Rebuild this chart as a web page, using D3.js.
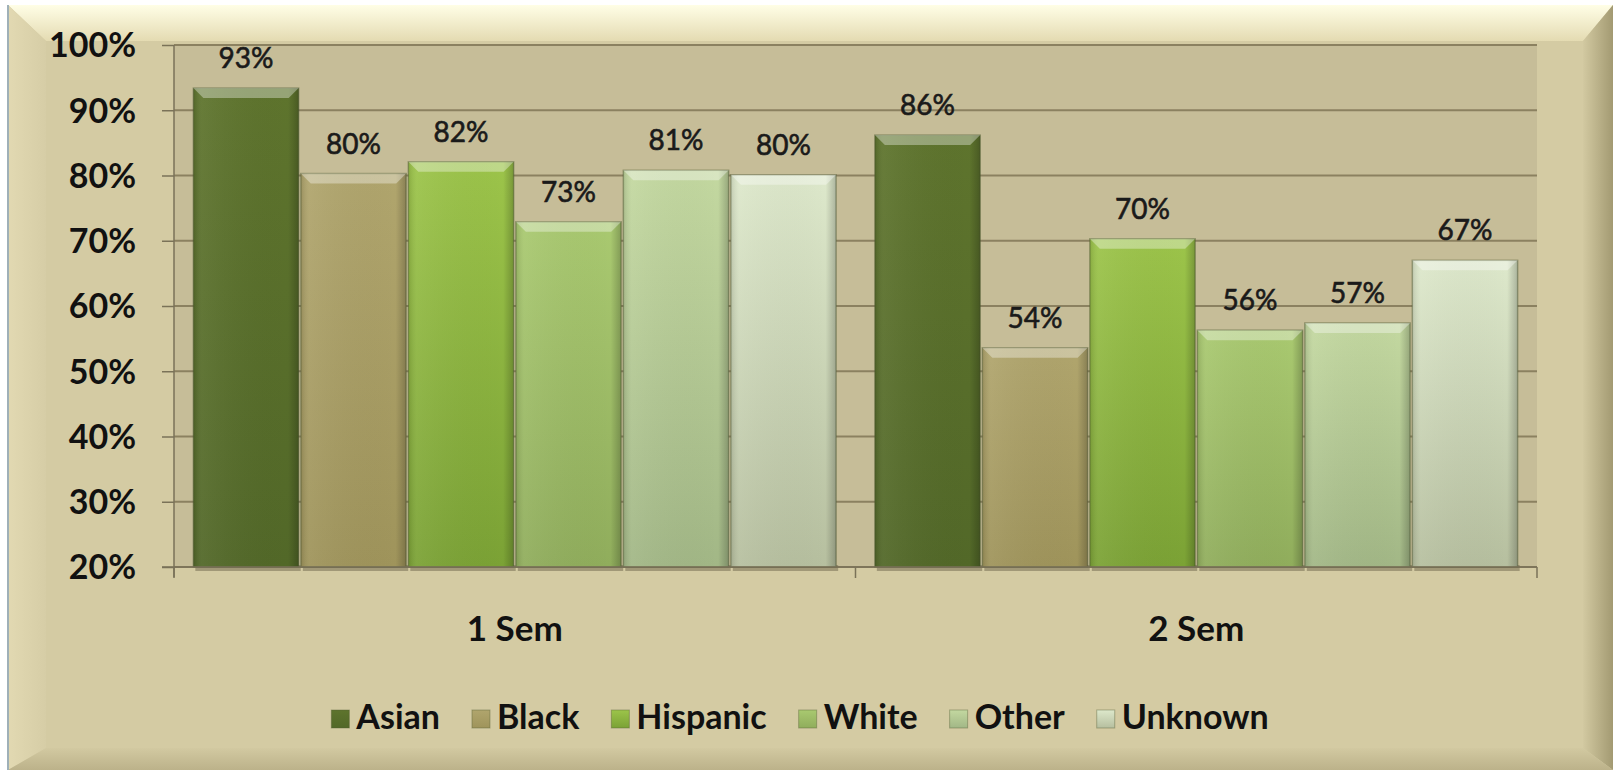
<!DOCTYPE html>
<html>
<head>
<meta charset="utf-8">
<script src="https://cdn.jsdelivr.net/npm/d3@7"></script>
<style>
body { margin: 0; background: #fff; }
svg text { font-family: Lato, "Open Sans", sans-serif; }
</style>
</head>
<body>
<div id="chart"></div>
<script>
var categories = ["1 Sem", "2 Sem"];
var seriesNames = ["Asian", "Black", "Hispanic", "White", "Other", "Unknown"];
var sem1 = [0.934, 0.803, 0.821, 0.729, 0.808, 0.801];
var sem2 = [0.862, 0.536, 0.703, 0.563, 0.574, 0.670];
var yTicks = [0.2, 0.3, 0.4, 0.5, 0.6, 0.7, 0.8, 0.9, 1.0];

var values = [sem1, sem2];
// colours: [top, bottom] of each bar
var colors = [["#5e742d", "#526828"], ["#b0a56d", "#9f945b"], ["#9cc44a", "#7ba235"],
              ["#a9c970", "#90ad5c"], ["#c3d8a0", "#a2b786"], ["#dde8cb", "#b6bf9f"]];

var W = 1613, H = 781;
var svg = d3.select("#chart").append("svg").attr("width", W).attr("height", H);
var defs = svg.append("defs");

// beveled frame
var fx0 = 8, fy0 = 5, fx1 = 1613, fy1 = 770;
var bl = 38, bt = 36, br = 30, bb = 22;
svg.append("rect").attr("x", fx0).attr("y", fy0).attr("width", fx1 - fx0).attr("height", fy1 - fy0).attr("fill", "#d4cba3");
var gTop = defs.append("linearGradient").attr("id", "gtop").attr("x1", 0).attr("y1", 0).attr("x2", 0).attr("y2", 1);
gTop.append("stop").attr("offset", "0%").attr("stop-color", "#fffee6");
gTop.append("stop").attr("offset", "100%").attr("stop-color", "#e4dbb2");
var gRight = defs.append("linearGradient").attr("id", "gright").attr("x1", 0).attr("y1", 0).attr("x2", 1).attr("y2", 0);
gRight.append("stop").attr("offset", "0%").attr("stop-color", "#d2c9a1");
gRight.append("stop").attr("offset", "100%").attr("stop-color", "#a39a72");
var gBottom = defs.append("linearGradient").attr("id", "gbottom").attr("x1", 0).attr("y1", 0).attr("x2", 0).attr("y2", 1);
gBottom.append("stop").attr("offset", "0%").attr("stop-color", "#d2c9a1");
gBottom.append("stop").attr("offset", "100%").attr("stop-color", "#bcb28a");
var gLeft = defs.append("linearGradient").attr("id", "gleft").attr("x1", 0).attr("y1", 0).attr("x2", 1).attr("y2", 0);
gLeft.append("stop").attr("offset", "0%").attr("stop-color", "#e2d9b2");
gLeft.append("stop").attr("offset", "100%").attr("stop-color", "#d6cda6");

svg.append("polygon").attr("fill", "url(#gtop)")
  .attr("points", [[fx0, fy0], [fx1, fy0], [fx1 - br, fy0 + bt], [fx0 + bl, fy0 + bt]].join(" "));
svg.append("polygon").attr("fill", "url(#gleft)")
  .attr("points", [[fx0, fy0], [fx0 + bl, fy0 + bt], [fx0 + bl, fy1 - bb], [fx0, fy1]].join(" "));
svg.append("polygon").attr("fill", "url(#gright)")
  .attr("points", [[fx1, fy0], [fx1, fy1], [fx1 - br, fy1 - bb], [fx1 - br, fy0 + bt]].join(" "));
svg.append("polygon").attr("fill", "url(#gbottom)")
  .attr("points", [[fx0, fy1], [fx0 + bl, fy1 - bb], [fx1 - br, fy1 - bb], [fx1, fy1]].join(" "));
svg.append("line").attr("x1", fx0).attr("y1", fy0).attr("x2", fx0).attr("y2", fy1).attr("stroke", "#9fb0b8").attr("stroke-width", 2);

// plot area
var plotL = 174, plotR = 1537, plotT = 45, plotB = 567;
var x = d3.scaleBand().domain(categories).range([plotL, plotR]).padding(0);
var xs = d3.scaleBand().domain(seriesNames).range([0, x.bandwidth()]).paddingInner(0.02).paddingOuter(0.18);
var y = d3.scaleLinear().domain([0.2, 1]).range([plotB, plotT]);

svg.append("rect").attr("x", plotL).attr("y", plotT).attr("width", plotR - plotL).attr("height", plotB - plotT).attr("fill", "#c6bd98");

// gridlines
svg.append("g").selectAll("line").data(yTicks).join("line")
  .attr("x1", plotL).attr("x2", plotR)
  .attr("y1", function(d){ return y(d); }).attr("y2", function(d){ return y(d); })
  .attr("stroke", "#8b8160").attr("stroke-width", 2);

// y axis
var yAxis = svg.append("g").attr("transform", "translate(" + plotL + ",0)")
  .call(d3.axisLeft(y).tickValues(yTicks).tickFormat(d3.format(".0%")).tickSize(12).tickPadding(26));
yAxis.select(".domain").attr("stroke", "#7a7258").attr("stroke-width", 1.5).attr("d", "M0," + plotT + "V" + (plotB + 10));
yAxis.selectAll(".tick line").attr("stroke", "#7a7258").attr("stroke-width", 1.5);
yAxis.selectAll(".tick text").attr("font-size", 34).attr("font-weight", "bold").attr("fill", "#111")
  .attr("font-family", "Lato, sans-serif").attr("dy", "0.35em");

// bar gradients
colors.forEach(function(c, i){
  var g = defs.append("linearGradient").attr("id", "bar" + i).attr("x1", 0).attr("y1", 0).attr("x2", 0).attr("y2", 1);
  g.append("stop").attr("offset", "0%").attr("stop-color", c[0]);
  g.append("stop").attr("offset", "100%").attr("stop-color", c[1]);
  var s = defs.append("linearGradient").attr("id", "side" + i).attr("x1", 0).attr("y1", 0).attr("x2", 1).attr("y2", 0);
  s.append("stop").attr("offset", "0%").attr("stop-color", "#000").attr("stop-opacity", 0.12);
  s.append("stop").attr("offset", "8%").attr("stop-color", "#fff").attr("stop-opacity", 0.06);
  s.append("stop").attr("offset", "90%").attr("stop-color", "#000").attr("stop-opacity", 0);
  s.append("stop").attr("offset", "100%").attr("stop-color", "#000").attr("stop-opacity", 0.22);
});

var groups = svg.append("g").selectAll("g").data(categories).join("g")
  .attr("transform", function(d){ return "translate(" + x(d) + ",0)"; });

var bars = groups.selectAll("g.bar").data(function(d, gi){
    return seriesNames.map(function(s, i){ return {series: s, i: i, v: values[gi][i]}; });
  }).join("g").attr("class", "bar");

// shadow below bars
bars.append("rect")
  .attr("x", function(d){ return xs(d.series) + 2; })
  .attr("y", plotB - 2)
  .attr("width", xs.bandwidth())
  .attr("height", 6)
  .attr("fill", "#6d664c").attr("opacity", 0.5);

bars.append("rect")
  .attr("x", function(d){ return xs(d.series); })
  .attr("y", function(d){ return y(d.v); })
  .attr("width", xs.bandwidth())
  .attr("height", function(d){ return plotB - y(d.v); })
  .attr("fill", function(d){ return "url(#bar" + d.i + ")"; })
  .attr("stroke", "#4f5a33").attr("stroke-opacity", 0.45).attr("stroke-width", 1.5);

bars.append("rect")
  .attr("x", function(d){ return xs(d.series); })
  .attr("y", function(d){ return y(d.v); })
  .attr("width", xs.bandwidth())
  .attr("height", function(d){ return plotB - y(d.v); })
  .attr("fill", function(d){ return "url(#side" + d.i + ")"; });

// top bevel
bars.append("polygon")
  .attr("points", function(d){
    var x0 = xs(d.series), x1 = x0 + xs.bandwidth(), t = y(d.v);
    return [[x0, t], [x1, t], [x1 - 10, t + 10], [x0 + 10, t + 10]].join(" ");
  })
  .attr("fill", "#fff").attr("opacity", 0.35);

// value labels
bars.append("text")
  .attr("x", function(d){ return xs(d.series) + xs.bandwidth() / 2; })
  .attr("y", function(d){ return y(d.v) - 20; })
  .attr("text-anchor", "middle")
  .attr("font-size", 28).attr("fill", "#1a1a1a")
  .attr("stroke", "#1a1a1a").attr("stroke-width", 0.6)
  .text(function(d){ return d3.format(".0%")(d.v); });

// x axis
svg.append("line").attr("x1", plotL - 12).attr("x2", plotR).attr("y1", plotB).attr("y2", plotB)
  .attr("stroke", "#7a7258").attr("stroke-width", 1.5);
var bounds = categories.map(function(c){ return x(c); }).concat([plotR]);
svg.append("g").selectAll("line").data(bounds).join("line")
  .attr("x1", function(d){ return d; }).attr("x2", function(d){ return d; })
  .attr("y1", plotB).attr("y2", plotB + 11)
  .attr("stroke", "#7a7258").attr("stroke-width", 1.5);

svg.append("g").selectAll("text").data(categories).join("text")
  .attr("x", function(d){ return x(d) + x.bandwidth() / 2; })
  .attr("y", 641)
  .attr("text-anchor", "middle")
  .attr("font-size", 35).attr("font-weight", "bold").attr("fill", "#111")
  .text(function(d){ return d; });

// legend
var legend = svg.append("g");
var items = legend.selectAll("g").data(seriesNames).join("g");
items.append("rect").attr("width", 18).attr("height", 18).attr("y", -19)
  .attr("fill", function(d, i){ return "url(#bar" + i + ")"; })
  .attr("stroke", "#4f5a33").attr("stroke-opacity", 0.4);
items.append("text").attr("x", 25).attr("y", 0)
  .attr("font-size", 34).attr("font-weight", "bold").attr("fill", "#111")
  .text(function(d){ return d; });
var pos = 0, offsets = [];
items.each(function(){
  offsets.push(pos);
  pos += 25 + d3.select(this).select("text").node().getComputedTextLength() + 32;
});
var total = pos - 32, lx = 800 - total / 2;
items.attr("transform", function(d, i){ return "translate(" + (lx + offsets[i]) + ",729)"; });
</script>
</body>
</html>
